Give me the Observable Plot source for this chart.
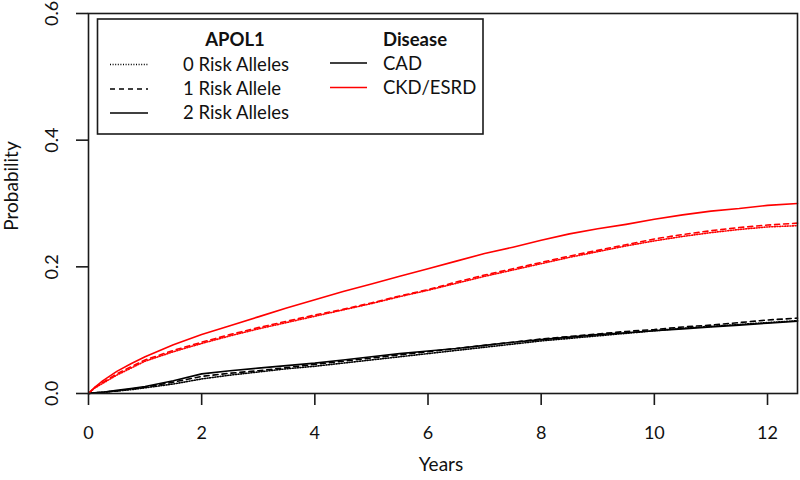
<!DOCTYPE html>
<html>
<head>
<meta charset="utf-8">
<script src="https://cdn.jsdelivr.net/npm/d3@7"></script>
<script src="https://cdn.jsdelivr.net/npm/@observablehq/plot@0.6"></script>
<style>
  html, body { margin: 0; padding: 0; background: #fff; }
  svg { display: block; }
</style>
</head>
<body>
<div id="chart"></div>
<script>
// ---- Data ----
const years = [0, 0.1, 0.25, 0.5, 0.75, 1, 1.5, 2, 2.5, 3, 3.5, 4, 4.5, 5, 5.5, 6, 6.5, 7, 7.5, 8, 8.5, 9, 9.5, 10, 10.5, 11, 11.5, 12, 12.53];

const ckd0 = [0, 0.008, 0.016, 0.029, 0.040, 0.051, 0.066, 0.079, 0.091, 0.102, 0.112, 0.122, 0.132, 0.142, 0.153, 0.163, 0.174, 0.185, 0.195, 0.205, 0.215, 0.224, 0.233, 0.241, 0.248, 0.254, 0.259, 0.263, 0.265];
const ckd1 = [0, 0.009, 0.017, 0.031, 0.042, 0.053, 0.068, 0.081, 0.093, 0.104, 0.114, 0.124, 0.133, 0.143, 0.154, 0.164, 0.176, 0.187, 0.197, 0.207, 0.217, 0.226, 0.235, 0.244, 0.251, 0.257, 0.262, 0.266, 0.269];
const ckd2 = [0, 0.009, 0.020, 0.035, 0.047, 0.058, 0.077, 0.093, 0.107, 0.121, 0.135, 0.148, 0.161, 0.173, 0.185, 0.197, 0.209, 0.221, 0.231, 0.242, 0.252, 0.260, 0.267, 0.275, 0.282, 0.288, 0.292, 0.297, 0.300];

const cad0 = [0, 0.001, 0.002, 0.004, 0.006, 0.009, 0.015, 0.023, 0.029, 0.034, 0.039, 0.043, 0.048, 0.053, 0.058, 0.063, 0.068, 0.073, 0.078, 0.083, 0.087, 0.091, 0.095, 0.099, 0.103, 0.106, 0.109, 0.112, 0.115];
const cad1 = [0, 0.001, 0.002, 0.004, 0.007, 0.010, 0.018, 0.027, 0.032, 0.036, 0.041, 0.046, 0.051, 0.056, 0.061, 0.066, 0.071, 0.076, 0.081, 0.086, 0.090, 0.094, 0.098, 0.101, 0.105, 0.108, 0.112, 0.116, 0.119];
const cad2 = [0, 0.001, 0.002, 0.005, 0.008, 0.011, 0.020, 0.031, 0.036, 0.040, 0.044, 0.048, 0.053, 0.058, 0.063, 0.067, 0.071, 0.076, 0.081, 0.085, 0.089, 0.093, 0.096, 0.099, 0.102, 0.105, 0.108, 0.111, 0.114];

const diseases = ["CAD", "CKD/ESRD"];
const alleleLabels = ["0 Risk Alleles", "1 Risk Allele", "2 Risk Alleles"];
const xTicks = [0, 2, 4, 6, 8, 10, 12];
const yTicks = [0, 0.2, 0.4, 0.6];
const xLabel = "Years";
const yLabel = "Probability";

// ---- Build tables ----
const seriesByAllele = [
  {allele: 0, CAD: cad0, "CKD/ESRD": ckd0},
  {allele: 1, CAD: cad1, "CKD/ESRD": ckd1},
  {allele: 2, CAD: cad2, "CKD/ESRD": ckd2}
];
function rows(a) {
  const out = [];
  for (const dz of diseases) {
    seriesByAllele[a][dz].forEach((p, i) => out.push({year: years[i], p, disease: dz}));
  }
  return out;
}
const dashes = ["1,1.6", "5,4", null];
const colors = {"CAD": "#000000", "CKD/ESRD": "#ff0000"};

const FONT = "Lato, 'Open Sans', sans-serif";

const lineMarks = [0, 1, 2].map(a => Plot.line(rows(a), {
  x: "year", y: "p", z: "disease",
  stroke: d => colors[d.disease],
  strokeWidth: 1.6,
  strokeDasharray: dashes[a] || undefined,
  curve: "linear"
}));

const chart = Plot.plot({
  width: 800,
  height: 480,
  marginLeft: 88,
  marginRight: 3,
  marginTop: 13,
  marginBottom: 87,
  style: {fontFamily: FONT, background: "#fff", color: "#111"},
  x: {domain: [0, 12.53]},
  y: {domain: [0, 0.6]},
  marks: [
    ...lineMarks,
    Plot.frame({stroke: "#1a1a1a", strokeWidth: 1.6}),
    Plot.axisX({ticks: xTicks, tickSize: 12, tickFormat: () => "", label: null, stroke: "#1a1a1a", strokeWidth: 1.6}),
    Plot.axisY({ticks: yTicks, tickSize: 12, tickFormat: () => "", label: null, stroke: "#1a1a1a", strokeWidth: 1.6}),
    Plot.text(xTicks, {x: d => d, frameAnchor: "bottom", dy: 40, text: d => String(d), fontSize: 18, fill: "#111", lineAnchor: "middle"}),
    Plot.text(yTicks, {y: d => d, frameAnchor: "left", dx: -36, text: d => d3.format(".1f")(d), rotate: -90, fontSize: 18, fill: "#111", textAnchor: "middle", lineAnchor: "middle"})
  ]
});

// Axis titles and legend (layout text added to the SVG)
const svg = d3.select(chart);
svg.append("text").attr("x", 441).attr("y", 466).attr("text-anchor", "middle")
  .attr("dominant-baseline", "middle").attr("font-size", 19).attr("font-family", FONT).attr("fill", "#111").text(xLabel);
svg.append("text").attr("transform", "translate(13,186) rotate(-90)").attr("text-anchor", "middle")
  .attr("dominant-baseline", "middle").attr("font-size", 19).attr("font-family", FONT).attr("fill", "#111").text(yLabel);

const lg = svg.append("g").attr("font-family", FONT).attr("font-size", 18.5).attr("fill", "#111").attr("text-anchor", "start");
lg.append("rect").attr("x", 97.5).attr("y", 19).attr("width", 385.5).attr("height", 115)
  .attr("fill", "#fff").attr("stroke", "#1a1a1a").attr("stroke-width", 1.6);
lg.append("text").attr("x", 235).attr("y", 41).attr("text-anchor", "middle").attr("dominant-baseline", "middle")
  .attr("font-weight", "bold").text("APOL1");
lg.append("text").attr("x", 383).attr("y", 41).attr("text-anchor", "start").attr("dominant-baseline", "middle")
  .attr("font-weight", "bold").text("Disease");
const rowY = [66, 90.5, 114.5];
alleleLabels.forEach((lab, i) => {
  lg.append("line").attr("x1", 110).attr("x2", 148).attr("y1", rowY[i] - 1.5).attr("y2", rowY[i] - 1.5)
    .attr("stroke", "#000").attr("stroke-width", 1.4).attr("stroke-dasharray", dashes[i]);
  lg.append("text").attr("x", 183).attr("y", rowY[i]).attr("text-anchor", "start").attr("dominant-baseline", "middle").text(lab);
});
diseases.forEach((dz, i) => {
  lg.append("line").attr("x1", 330).attr("x2", 367).attr("y1", rowY[i] - 3).attr("y2", rowY[i] - 3)
    .attr("stroke", colors[dz]).attr("stroke-width", 1.4);
  lg.append("text").attr("x", 383).attr("y", rowY[i] - 1).attr("text-anchor", "start").attr("dominant-baseline", "middle").text(dz);
});

document.getElementById("chart").appendChild(chart);
</script>
</body>
</html>
